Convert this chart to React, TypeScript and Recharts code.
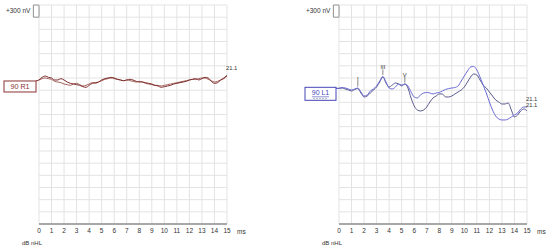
import React from 'react';
import { LineChart, Line, XAxis, YAxis, CartesianGrid, ReferenceDot, ReferenceArea, ReferenceLine } from 'recharts';

// Time axis (ms), sampled every 0.25 ms
const TIME_MS = [
  0, 0.25, 0.5, 0.75, 1, 1.25, 1.5, 1.75, 2, 2.25, 2.5, 2.75, 3, 3.25, 3.5, 3.75,
  4, 4.25, 4.5, 4.75, 5, 5.25, 5.5, 5.75, 6, 6.25, 6.5, 6.75, 7, 7.25, 7.5, 7.75,
  8, 8.25, 8.5, 8.75, 9, 9.25, 9.5, 9.75, 10, 10.25, 10.5, 10.75, 11, 11.25, 11.5, 11.75,
  12, 12.25, 12.5, 12.75, 13, 13.25, 13.5, 13.75, 14, 14.25, 14.5, 14.75, 15,
];
const X_TICKS = [0, 1, 2, 3, 4, 5, 6, 7, 8, 9, 10, 11, 12, 13, 14, 15];
const Y_TICKS_NV = [
  -3600, -3300, -3000, -2700, -2400, -2100, -1800, -1500, -1200, -900, -600, -300,
  0, 300, 600, 900, 1200, 1500, 1800,
];

// Right ear (R1) – two replications, nV
const R1_TRACE_A = [
  -49, 16, 49, 16, 0, -49, -49, -16, -49, -99, -132, -148, -164, -181, -214, -230,
  -181, -132, -115, -99, -49, -16, 0, 16, 0, -33, -49, -66, -49, -33, -49, -82,
  -99, -99, -115, -132, -148, -181, -197, -230, -214, -197, -181, -148, -132, -115, -99, -82,
  -49, -33, -16, -49, -16, 16, 0, -82, -132, -115, -49, 0, 66,
];
const R1_TRACE_B = [
  -49, -16, 0, -16, -33, -82, -99, -115, -148, -164, -181, -148, -132, -164, -197, -181,
  -148, -115, -132, -99, -66, -33, -16, 0, -16, -33, -49, -66, -49, -66, -82, -99,
  -82, -99, -132, -148, -164, -181, -181, -197, -181, -164, -148, -132, -115, -99, -82, -66,
  -49, -33, -33, -16, 0, 0, -33, -66, -99, -82, -49, -16, 49,
];

// Left ear (L1) – two replications, nV
const L1_TRACE_A = [
  -254, -234, -247, -271, -296, -271, -247, -345, -444, -419, -320, -271, -197, -74, 37, -99,
  -247, -271, -222, -148, -173, -148, -197, -345, -468, -493, -419, -370, -357, -370, -394, -370,
  -357, -320, -283, -259, -247, -234, -197, -74, 49, 173, 271, 283, 197, 25, -173, -370,
  -592, -789, -937, -1011, -1035, -1035, -1011, -961, -912, -863, -764, -715, -715,
];
const L1_TRACE_B = [
  -254, -247, -271, -296, -320, -283, -259, -370, -468, -444, -370, -296, -222, -99, 25, -123,
  -222, -173, -123, -148, -197, -148, -247, -493, -690, -789, -813, -789, -715, -592, -493, -444,
  -394, -394, -468, -468, -444, -394, -345, -296, -222, -99, 25, 99, 74, -49, -173, -247,
  -345, -444, -542, -592, -641, -641, -616, -789, -961, -912, -813, -764, -813,
];

const L1_PEAK_LABELS = ['I', 'III', 'V'];
const L1_PEAK_TIMES = [1.5, 3.5, 5.25];
const END_LABEL = '21.1';
const SCALE_LABEL = '+300 nV';
const SCALE_NV = 300;
const LEVEL_LABEL = 'dB nHL';
const UNIT_LABEL = 'ms';

const FONT = '"Liberation Sans", Arial, sans-serif';
const AXIS_COLOR = '#8f8f8f';
const GRID_COLOR = '#e3e3e3';
const TEXT_COLOR = '#333';

function buildRows(a: number[], b: number[]) {
  return TIME_MS.map((t, i) => ({ t, a: a[i], b: b[i] }));
}

type PanelProps = {
  a: number[];
  b: number[];
  colorA: string;
  colorB: string;
  boxText: string;
  boxColor: string;
  underline?: boolean;
  peaks?: { label: string; t: number }[];
  endLabels: 'one' | 'two';
};

function Panel({ a, b, colorA, colorB, boxText, boxColor, underline, peaks, endLabels }: PanelProps) {
  const rows = buildRows(a, b);
  const yTop = Y_TICKS_NV[Y_TICKS_NV.length - 1];
  const yBottom = Y_TICKS_NV[0];
  const last = TIME_MS.length - 1;

  const boxShape = (p: any) => {
    const { cx, cy } = p;
    if (underline) {
      return (
        <g>
          <line x1={cx - 3} y1={cy} x2={cx} y2={cy} stroke={boxColor} strokeWidth={1} />
          <rect x={cx - 34} y={cy - 1} width={31} height={13} fill="#fff" stroke={boxColor} strokeWidth={1} />
          <text x={cx - 18.5} y={cy + 7} textAnchor="middle" fontSize={7} fontFamily={FONT} fill={boxColor}>{boxText}</text>
          <line x1={cx - 27} y1={cy + 8.5} x2={cx - 10} y2={cy + 8.5} stroke={boxColor} strokeWidth={0.6} />
          <line x1={cx - 26} y1={cy + 10.3} x2={cx - 11} y2={cy + 10.3} stroke="#9a9ab8" strokeWidth={0.7} strokeDasharray="2 1" />
        </g>
      );
    }
    return (
      <g>
        <line x1={cx - 3} y1={cy + 1} x2={cx} y2={cy} stroke={boxColor} strokeWidth={1} />
        <rect x={cx - 35} y={cy + 1} width={32} height={11} fill="#fff" stroke={boxColor} strokeWidth={1} />
        <text x={cx - 19} y={cy + 9.3} textAnchor="middle" fontSize={7.2} fontFamily={FONT} fill={boxColor}>{boxText}</text>
      </g>
    );
  };

  const endShape = (dy: number) => (p: any) => (
    <text x={p.cx - 1} y={p.cy + dy} fontSize={5.8} fontFamily={FONT} fill={TEXT_COLOR}>{END_LABEL}</text>
  );

  const peakShape = (label: string) => (p: any) => (
    <g>
      <line x1={p.cx} y1={p.cy - 1.5} x2={p.cx} y2={p.cy - 7} stroke="#555" strokeWidth={0.7} />
      <text x={p.cx} y={p.cy - 7.5} textAnchor="middle" fontSize={5.8} fontFamily={FONT} fill="#333" stroke="none">{label}</text>
    </g>
  );

  const cornerShape = (p: any) => (
    <g>
      <text x={p.cx + 10} y={p.cy + 9.5} fontSize={6.5} fontFamily={FONT} fill={TEXT_COLOR}>{UNIT_LABEL}</text>
      <text x={p.cx - 205} y={p.cy + 20.5} fontSize={6} fontFamily={FONT} fill={TEXT_COLOR}>{LEVEL_LABEL}</text>
    </g>
  );

  return (
    <LineChart width={250} height={247} data={rows} margin={{ top: 5, right: 23, bottom: 0, left: 39 }}>
      <CartesianGrid stroke={GRID_COLOR} strokeWidth={1} horizontal={false} />
      {Y_TICKS_NV.map((v) => (
        <ReferenceLine key={v} y={v} stroke={GRID_COLOR} strokeWidth={1} ifOverflow="visible" />
      ))}
      <XAxis
        dataKey="t"
        type="number"
        domain={[0, 15]}
        ticks={X_TICKS}
        interval={0}
        height={23}
        tickSize={3}
        tickMargin={1}
        tickLine={false}
        axisLine={{ stroke: AXIS_COLOR, strokeWidth: 1.5 }}
        tick={{ fontSize: 6.5, fill: TEXT_COLOR, fontFamily: FONT }}
      />
      <YAxis
        type="number"
        domain={[yBottom, yTop]}
        ticks={Y_TICKS_NV}
        width={0}
        tick={false}
        tickLine={false}
        axisLine={{ stroke: AXIS_COLOR, strokeWidth: 2 }}
      />
      <ReferenceArea
        x1={-0.45}
        x2={0}
        y1={yTop - SCALE_NV}
        y2={yTop}
        ifOverflow="visible"
        fill="#fff"
        fillOpacity={1}
        stroke={AXIS_COLOR}
        strokeWidth={1}
        label={{ value: SCALE_LABEL, position: 'left', offset: 3, fontSize: 6.5, fill: TEXT_COLOR, fontFamily: FONT }}
      />
      <Line type="monotone" dataKey="b" stroke={colorB} strokeWidth={1} dot={false} isAnimationActive={false} />
      <Line type="monotone" dataKey="a" stroke={colorA} strokeWidth={1} dot={false} isAnimationActive={false} />
      <ReferenceDot x={0} y={a[0]} ifOverflow="visible" shape={boxShape} />
      {(peaks || []).map((pk) => (
        <ReferenceDot key={pk.label} x={pk.t} y={a[TIME_MS.indexOf(pk.t)]} ifOverflow="visible" shape={peakShape(pk.label)} />
      ))}
      <ReferenceDot x={15} y={a[last]} ifOverflow="visible" shape={endShape(endLabels === 'two' ? -6 : -5)} />
      {endLabels === 'two' && (
        <ReferenceDot x={15} y={b[last]} ifOverflow="visible" shape={endShape(-3.5)} />
      )}
      <ReferenceDot x={15} y={yBottom} ifOverflow="visible" shape={cornerShape} />
    </LineChart>
  );
}

export default function App() {
  const peaks = L1_PEAK_LABELS.map((label, i) => ({ label, t: L1_PEAK_TIMES[i] }));
  return (
    <div style={{ position: 'absolute', left: 0, top: 0, width: 550, height: 247, background: '#fff', overflow: 'hidden' }}>
      <div style={{ position: 'absolute', left: 0, top: 0, width: 250, height: 247, overflow: 'hidden' }}>
        <Panel
          a={R1_TRACE_A}
          b={R1_TRACE_B}
          colorA="#7e2f2f"
          colorB="#a6625c"
          boxText="90 R1"
          boxColor="#8a3232"
          endLabels="one"
        />
      </div>
      <div style={{ position: 'absolute', left: 300, top: 0, width: 250, height: 247, overflow: 'hidden' }}>
        <Panel
          a={L1_TRACE_A}
          b={L1_TRACE_B}
          colorA="#6c6cd4"
          colorB="#5a5a8e"
          boxText="90 L1"
          boxColor="#4646b8"
          underline
          peaks={peaks}
          endLabels="two"
        />
      </div>
    </div>
  );
}
